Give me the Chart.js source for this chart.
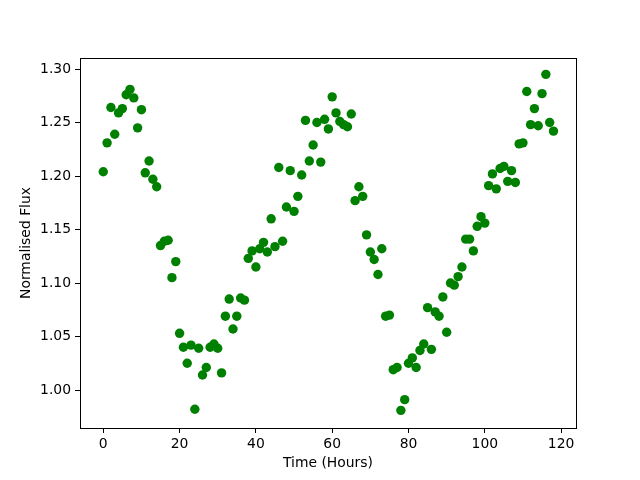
<!DOCTYPE html>
<html>
<head>
<meta charset="utf-8">
<script src="https://cdn.jsdelivr.net/npm/chart.js@4"></script>
<style>
  body { margin: 0; background: #fff; }
</style>
</head>
<body>
<canvas id="myChart" width="640" height="480"></canvas>
<script>
// hours since start
const hours = [];
for (let h = 0; h <= 118; h++) hours.push(h);

// normalised flux
const flux = [
  1.204, 1.231, 1.264, 1.239, 1.259, 1.263, 1.276, 1.281, 1.273, 1.245,
  1.262, 1.203, 1.214, 1.197, 1.190, 1.135, 1.139, 1.140, 1.105, 1.120,
  1.053, 1.040, 1.025, 1.042, 0.982, 1.039, 1.014, 1.021, 1.040, 1.043,
  1.039, 1.016, 1.069, 1.085, 1.057, 1.069, 1.086, 1.084, 1.123, 1.130,
  1.115, 1.132, 1.138, 1.129, 1.160, 1.134, 1.208, 1.139, 1.171, 1.205,
  1.167, 1.181, 1.201, 1.252, 1.214, 1.229, 1.250, 1.213, 1.253, 1.244,
  1.274, 1.259, 1.251, 1.248, 1.246, 1.258, 1.177, 1.190, 1.181, 1.145,
  1.129, 1.122, 1.108, 1.132, 1.069, 1.070, 1.019, 1.021, 0.981, 0.991,
  1.025, 1.030, 1.021, 1.037, 1.043, 1.077, 1.038, 1.073, 1.069, 1.087,
  1.054, 1.100, 1.098, 1.106, 1.115, 1.141, 1.141, 1.130, 1.153, 1.162,
  1.156, 1.191, 1.202, 1.188, 1.207, 1.209, 1.195, 1.205, 1.194, 1.230,
  1.231, 1.279, 1.248, 1.263, 1.247, 1.277, 1.295, 1.250, 1.242
];

const xTicks = [0, 20, 40, 60, 80, 100, 120];
const yTicks = [1.00, 1.05, 1.10, 1.15, 1.20, 1.25, 1.30];

const points = hours.map((h, i) => ({ x: h, y: flux[i] }));

const font = { family: 'DejaVu Sans', size: 13.9 };

const frame = {
  id: 'frame',
  afterDraw(chart) {
    const { ctx, chartArea: a } = chart;
    ctx.save();
    ctx.strokeStyle = '#000';
    ctx.lineWidth = 1;
    ctx.strokeRect(Math.round(a.left) + 0.5, Math.round(a.top) + 0.5,
      Math.round(a.right - a.left), Math.round(a.bottom - a.top));
    ctx.restore();
  }
};

new Chart(document.getElementById('myChart').getContext('2d'), {
  type: 'scatter',
  data: {
    datasets: [{
      data: points,
      backgroundColor: '#008000',
      borderWidth: 0,
      pointRadius: 4.7,
      pointHoverRadius: 4.7
    }]
  },
  options: {
    responsive: false,
    animation: false,
    layout: { padding: { top: 58, right: 64, left: 0, bottom: 0 } },
    plugins: { legend: { display: false }, tooltip: { enabled: false } },
    scales: {
      x: {
        type: 'linear',
        min: -6.1,
        max: 123.9,
        afterBuildTicks: s => { s.ticks = xTicks.map(v => ({ value: v })); },
        afterFit: s => { s.height = 52; },
        border: { display: false },
        grid: { drawOnChartArea: false, drawTicks: true, tickLength: 5, color: '#000' },
        ticks: { color: '#000', font, padding: 3, maxRotation: 0 },
        title: { display: true, text: 'Time (Hours)', color: '#000', font, padding: { top: 4, bottom: 8 } }
      },
      y: {
        type: 'linear',
        min: 0.9645,
        max: 1.3103,
        afterBuildTicks: s => { s.ticks = yTicks.map(v => ({ value: v })); },
        afterFit: s => { s.width = 80; },
        border: { display: false },
        grid: { drawOnChartArea: false, drawTicks: true, tickLength: 5, color: '#000' },
        ticks: { color: '#000', font, padding: 4, callback: v => v.toFixed(2) },
        title: { display: true, text: 'Normalised Flux', color: '#000', font, padding: { top: 18, bottom: 4 } }
      }
    }
  },
  plugins: [frame]
});
</script>
</body>
</html>
